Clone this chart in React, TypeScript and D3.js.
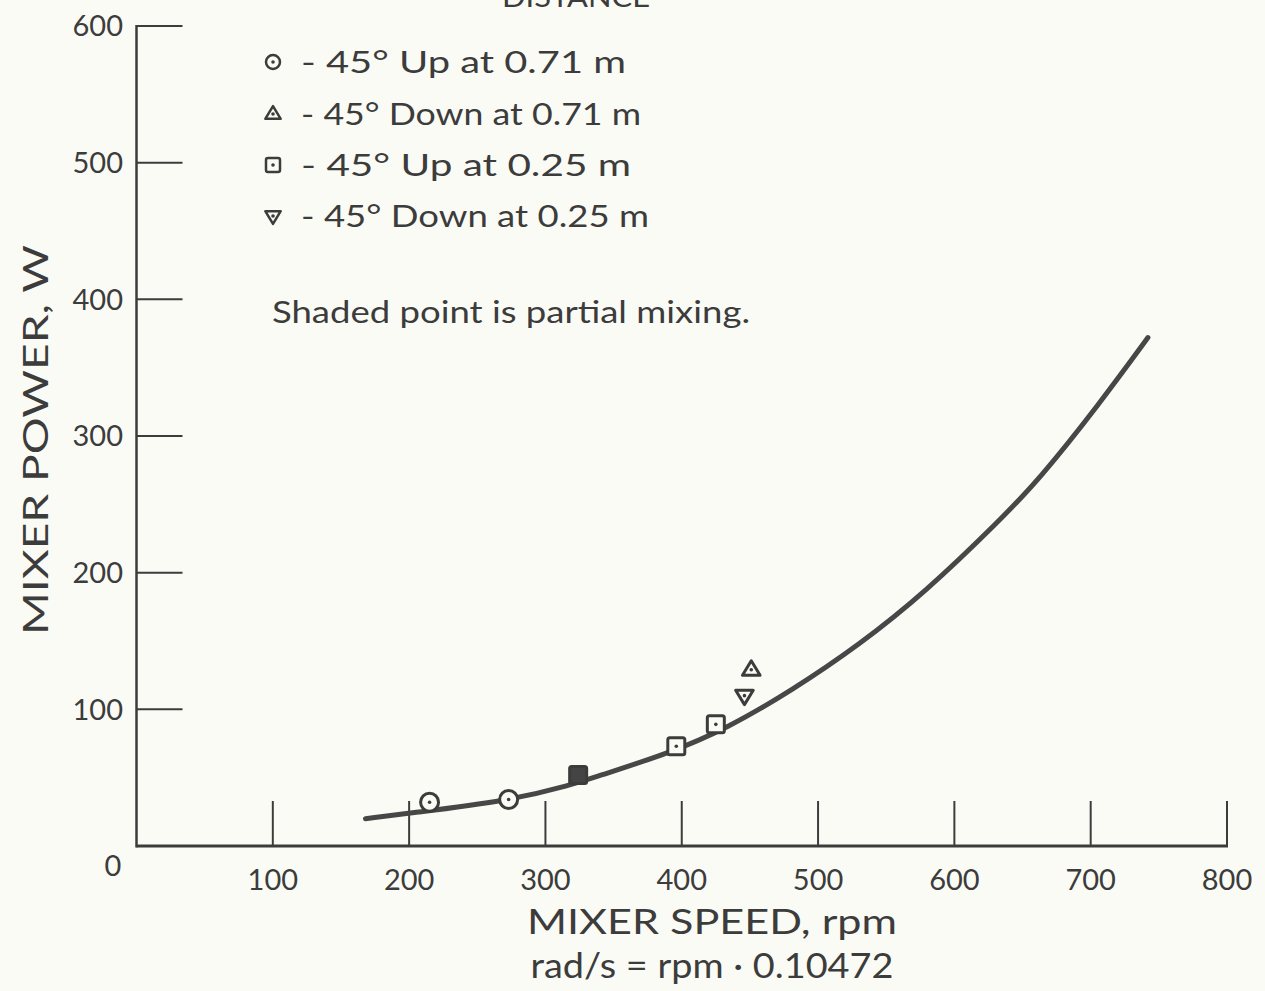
import React from 'react';
import * as d3 from 'd3';

// values
const speedTicks = [100, 200, 300, 400, 500, 600, 700, 800];
const powerTicks = [100, 200, 300, 400, 500, 600];

// fitted curve
const curveSpeed = [168, 200, 273, 320, 335, 391, 433, 481, 530, 579, 633, 662, 706, 742];
const curvePower = [20, 24, 33, 45, 50, 68, 86, 114, 147, 186, 238, 268, 323, 372];

// measured points
const upFarSpeed = [215, 273];
const upFarPower = [32, 34];
const downFarSpeed = [451];
const downFarPower = [129];
const upNearSpeed = [396, 425];
const upNearPower = [73, 89];
const downNearSpeed = [446];
const downNearPower = [110];
const partialSpeed = [324];
const partialPower = [52];

const legendLabels = [
  '- 45\u00b0 Up at 0.71 m',
  '- 45\u00b0 Down at 0.71 m',
  '- 45\u00b0 Up at 0.25 m',
  '- 45\u00b0 Down at 0.25 m',
];
const legendShapes = ['circle', 'up', 'square', 'down'];

const ink = '#3c3c3c';
const font = 'Lato, "Noto Sans", sans-serif';

function Marker({ shape, cx, cy, s, filled = false, sw = 3 }) {
  const dot = <circle cx={cx} cy={cy} r={1.8} fill={ink} />;
  if (shape === 'circle') {
    return (
      <g>
        <circle cx={cx} cy={cy} r={s} fill="#fbfbf5" stroke={ink} strokeWidth={sw} />
        {dot}
      </g>
    );
  }
  if (shape === 'square') {
    return (
      <g>
        <rect x={cx - s} y={cy - s} width={2 * s} height={2 * s} rx={2}
          fill={filled ? '#444' : '#fbfbf5'} stroke={ink} strokeWidth={sw} />
        {!filled && dot}
      </g>
    );
  }
  const h = s * 1.8;
  const pts = shape === 'up'
    ? [[cx, cy - h * 0.62], [cx - s * 1.1, cy + h * 0.38], [cx + s * 1.1, cy + h * 0.38]]
    : [[cx, cy + h * 0.62], [cx - s * 1.1, cy - h * 0.38], [cx + s * 1.1, cy - h * 0.38]];
  return (
    <g>
      <polygon points={pts.map(p => p.join(',')).join(' ')} fill="#fbfbf5" stroke={ink}
        strokeWidth={sw} strokeLinejoin="round" />
      {dot}
    </g>
  );
}

export default function App() {
  const W = 1265, H = 991;
  const x = d3.scaleLinear().domain([0, 800]).range([136.5, 1227]);
  const y = d3.scaleLinear().domain([0, 600]).range([846, 26]);

  const line = d3.line<number>()
    .x(i => x(curveSpeed[i]))
    .y(i => y(curvePower[i]))
    .curve(d3.curveBasis);

  const pts = (sx: number[], py: number[]) => sx.map((s, i) => [x(s), y(py[i])]);

  return (
    <svg width={W} height={H} style={{ position: 'absolute', left: 0, top: 0 }}
      fontFamily={font} fill={ink}>
      <rect width={W} height={H} fill="#fbfbf5" />

      {/* axes */}
      <line x1={x(0)} x2={x(0)} y1={y(600) - 1} y2={y(0) + 1.5} stroke={ink} strokeWidth={2.5} />
      <line x1={x(0)} x2={x(800) + 1} y1={y(0)} y2={y(0)} stroke={ink} strokeWidth={3} />
      {powerTicks.map(t => (
        <g key={'py' + t}>
          <line x1={x(0)} x2={x(0) + 46} y1={y(t)} y2={y(t)} stroke={ink} strokeWidth={2} />
          <text x={123} y={y(t)} dy="0.36em" textAnchor="end" fontSize={29}>{t}</text>
        </g>
      ))}
      {speedTicks.map(t => (
        <g key={'sx' + t}>
          <line x1={x(t)} x2={x(t)} y1={y(0)} y2={y(0) - 45} stroke={ink} strokeWidth={2} />
          <text x={x(t)} y={890} textAnchor="middle" fontSize={29}>{t}</text>
        </g>
      ))}
      <text x={113} y={876} textAnchor="middle" fontSize={29}>0</text>

      {/* titles */}
      <text x={712} y={934} textAnchor="middle" fontSize={34} textLength={370}
        lengthAdjust="spacingAndGlyphs">MIXER SPEED, rpm</text>
      <text x={712} y={978} textAnchor="middle" fontSize={34} textLength={363}
        lengthAdjust="spacingAndGlyphs">rad/s = rpm · 0.10472</text>
      <text transform="translate(48,440) rotate(-90)" textAnchor="middle" fontSize={35}
        textLength={390} lengthAdjust="spacingAndGlyphs">MIXER POWER, W</text>
      <text x={576} y={7} textAnchor="middle" fontSize={26} textLength={148}
        lengthAdjust="spacingAndGlyphs">DISTANCE</text>

      {/* legend */}
      {legendLabels.map((lab, i) => {
        const ly = [62, 114, 165, 216][i];
        const widths = [325, 340, 330, 348];
        return (
          <g key={lab}>
            <Marker shape={legendShapes[i]} cx={273} cy={ly} s={7} sw={2.5} />
            <text x={301} y={ly} dy="0.36em" fontSize={30} textLength={widths[i]}
              lengthAdjust="spacingAndGlyphs">{lab}</text>
          </g>
        );
      })}
      <text x={272} y={312} dy="0.36em" fontSize={30} textLength={478}
        lengthAdjust="spacingAndGlyphs">Shaded point is partial mixing.</text>

      {/* curve */}
      <path d={line(d3.range(curveSpeed.length)) ?? ''} fill="none" stroke="#474747"
        strokeWidth={5} strokeLinecap="round" />

      {/* points */}
      {pts(upFarSpeed, upFarPower).map(([cx, cy], i) => (
        <Marker key={'c' + i} shape="circle" cx={cx} cy={cy} s={9} />
      ))}
      {pts(upNearSpeed, upNearPower).map(([cx, cy], i) => (
        <Marker key={'s' + i} shape="square" cx={cx} cy={cy} s={8.5} />
      ))}
      {pts(partialSpeed, partialPower).map(([cx, cy], i) => (
        <Marker key={'f' + i} shape="square" cx={cx} cy={cy} s={8.5} filled />
      ))}
      {pts(downFarSpeed, downFarPower).map(([cx, cy], i) => (
        <Marker key={'u' + i} shape="up" cx={cx} cy={cy} s={8} />
      ))}
      {pts(downNearSpeed, downNearPower).map(([cx, cy], i) => (
        <Marker key={'d' + i} shape="down" cx={cx} cy={cy} s={8} />
      ))}
    </svg>
  );
}
